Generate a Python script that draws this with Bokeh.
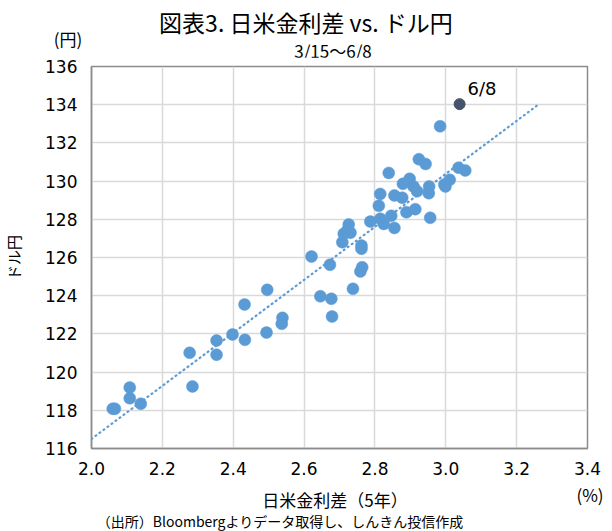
import numpy as np
from bokeh.plotting import figure
from bokeh.layouts import column
from bokeh.models import Range1d, FixedTicker, PrintfTickFormatter, Label, ColumnDataSource, Div
from bokeh.embed import file_html
from bokeh.resources import INLINE

# Japan-US 5y rate spread (%) vs USD/JPY, 3/15 - 6/7
spread = [2.060, 2.066, 2.108, 2.108, 2.139, 2.277, 2.285, 2.353, 2.353, 2.398,
          2.432, 2.433, 2.494, 2.496, 2.537, 2.539, 2.621, 2.646, 2.673, 2.677,
          2.679, 2.708, 2.712, 2.722, 2.726, 2.731, 2.738, 2.759, 2.764, 2.762,
          2.762, 2.787, 2.811, 2.815, 2.815, 2.825, 2.839, 2.846, 2.855, 2.855,
          2.877, 2.879, 2.889, 2.898, 2.909, 2.914, 2.919, 2.924, 2.943, 2.952,
          2.953, 2.956, 2.984, 2.996, 2.999, 3.011, 3.036, 3.055]
usdjpy = [118.08, 118.08, 119.19, 118.63, 118.34, 121.01, 119.25, 121.65, 120.91, 121.97,
          123.54, 121.69, 122.07, 124.31, 122.53, 122.84, 126.05, 123.97, 125.62, 123.84,
          122.91, 126.80, 127.24, 127.41, 127.73, 127.30, 124.36, 125.27, 125.49, 126.63,
          126.46, 127.88, 128.71, 129.33, 128.03, 127.76, 130.43, 128.18, 129.25, 127.55,
          129.13, 129.86, 128.37, 130.12, 129.72, 128.53, 129.47, 131.15, 130.90, 129.37,
          129.72, 128.08, 132.87, 129.82, 129.72, 130.07, 130.70, 130.56]
latest_spread = [3.039]
latest_usdjpy = [134.03]
latest_label = "6/8"

x_ticks = [2.0, 2.2, 2.4, 2.6, 2.8, 3.0, 3.2, 3.4]
y_ticks = [116, 118, 120, 122, 124, 126, 128, 130, 132, 134, 136]

title_text = "図表3. 日米金利差 vs. ドル円"
subtitle_text = "3/15〜6/8"
x_title = "日米金利差（5年）"
y_title = "ドル円"
y_unit = "(円)"
x_unit = "(%)"
source_text = "（出所）Bloombergよりデータ取得し、しんきん投信作成"

JP = "Noto Sans CJK JP"
NUM = "DejaVu Sans"
BLUE = "#5B9BD5"
DARK = "#44546A"

W = 608
TOP_H, MAIN_H, BOT_H = 57, 424, 50


def span(x, y, text, size):
    return ('<span style="position:absolute;left:%dpx;top:%dpx;transform:translate(-50%%,-50%%);'
            'white-space:nowrap;font-family:\'%s\';font-size:%s;font-weight:normal;'
            'line-height:1;color:#000;">%s</span>' % (x, y, JP, size, text))


def text_div(h, spans):
    html = '<div style="position:relative;width:%dpx;height:%dpx;overflow:visible;">%s</div>' % (
        W, h, "".join(spans))
    return Div(text=html, width=W, height=h, margin=0)


# ---- header ----
top = text_div(TOP_H, [span(306, 22, title_text, "23px"),
                       span(333, 50, subtitle_text, "17px"),
                       span(68, 38, y_unit, "17px")])

# ---- main chart ----
p = figure(width=W, height=MAIN_H, output_backend="svg", toolbar_location=None,
           x_range=Range1d(2.0, 3.4), y_range=Range1d(116, 136),
           min_border_left=91, min_border_right=21, min_border_top=9, min_border_bottom=33)
p.title.visible = False
p.background_fill_color = "white"
p.border_fill_color = "white"
p.outline_line_color = "#8C8C8C"
p.outline_line_width = 1.5

for ax in (p.xaxis[0], p.yaxis[0]):
    ax.axis_line_color = "#8C8C8C"
    ax.axis_line_width = 1.5
    ax.major_tick_in = 0
    ax.major_tick_out = 0
    ax.minor_tick_in = 0
    ax.minor_tick_out = 0
    ax.major_label_text_font = NUM
    ax.major_label_text_font_size = "17px"
    ax.major_label_text_color = "#000000"

p.xaxis.ticker = FixedTicker(ticks=x_ticks)
p.yaxis.ticker = FixedTicker(ticks=y_ticks)
p.xaxis.formatter = PrintfTickFormatter(format="%.1f")
p.yaxis.formatter = PrintfTickFormatter(format="%d")
p.xaxis.major_label_standoff = 13
p.yaxis.major_label_standoff = 14

p.yaxis.axis_label = y_title
p.yaxis.axis_label_text_font = JP
p.yaxis.axis_label_text_font_size = "15px"
p.yaxis.axis_label_text_font_style = "normal"
p.yaxis.axis_label_text_color = "#000000"
p.yaxis.axis_label_standoff = 18

p.xgrid.grid_line_color = "#D9D9D9"
p.ygrid.grid_line_color = "#D9D9D9"
p.xgrid.grid_line_width = 1.5
p.ygrid.grid_line_width = 1.5

# trend line (least squares)
k, b = np.polyfit(spread, usdjpy, 1)
tx = np.array([2.0, 3.26])
p.line(tx, k * tx + b, line_color=BLUE, line_width=2.2, line_dash="1 4", line_cap="round")

src = ColumnDataSource(dict(x=spread, y=usdjpy))
p.scatter("x", "y", source=src, size=12, fill_color=BLUE, line_color=BLUE, line_width=0.5)
p.scatter(latest_spread, latest_usdjpy, size=11, fill_color=DARK, line_color=DARK)

p.add_layout(Label(x=latest_spread[0], y=latest_usdjpy[0], text=latest_label,
                   x_offset=8, y_offset=5, text_font=NUM, text_font_size="18px",
                   text_color="#000000", text_baseline="bottom"))

# ---- footer ----
bot = text_div(BOT_H, [span(335, 18, x_title, "17px"),
                       span(590, 13, x_unit, "17px"),
                       span(280, 40, source_text, "14px")])

layout = column(top, p, bot, spacing=0)
open("out.html", "w").write(file_html(layout, INLINE))
